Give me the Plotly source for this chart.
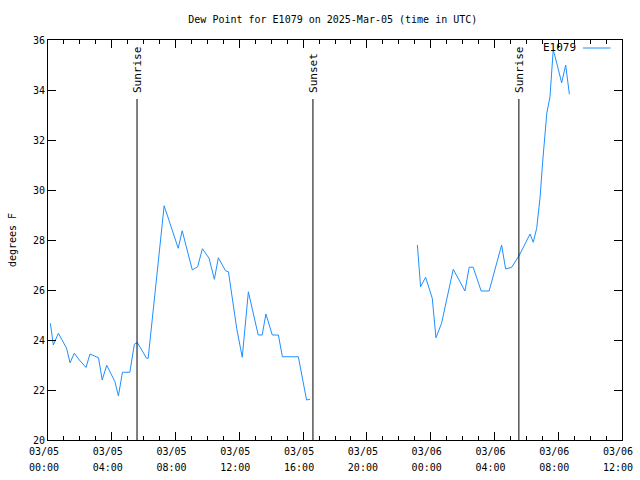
import plotly.graph_objects as go

# ---- data ----
times = [
    "2025-03-05 00:09", "2025-03-05 00:20", "2025-03-05 00:39", "2025-03-05 01:10",
    "2025-03-05 01:23", "2025-03-05 01:39", "2025-03-05 01:58", "2025-03-05 02:23",
    "2025-03-05 02:38", "2025-03-05 02:54", "2025-03-05 03:10", "2025-03-05 03:24",
    "2025-03-05 03:41", "2025-03-05 03:56", "2025-03-05 04:12", "2025-03-05 04:25",
    "2025-03-05 04:40", "2025-03-05 05:08", "2025-03-05 05:25", "2025-03-05 05:36",
    "2025-03-05 06:11", "2025-03-05 06:17", "2025-03-05 07:17", "2025-03-05 07:39",
    "2025-03-05 08:10", "2025-03-05 08:25", "2025-03-05 09:03", "2025-03-05 09:23",
    "2025-03-05 09:41", "2025-03-05 10:06", "2025-03-05 10:26", "2025-03-05 10:41",
    "2025-03-05 11:08", "2025-03-05 11:19", "2025-03-05 11:50", "2025-03-05 12:11",
    "2025-03-05 12:34", "2025-03-05 13:11", "2025-03-05 13:26", "2025-03-05 13:40",
    "2025-03-05 14:04", "2025-03-05 14:27", "2025-03-05 14:42", "2025-03-05 15:13",
    "2025-03-05 15:42", "2025-03-05 16:13", "2025-03-05 16:26",
    "2025-03-05 20:00",
    "2025-03-05 23:10", "2025-03-05 23:22", "2025-03-05 23:41", "2025-03-06 00:06",
    "2025-03-06 00:20", "2025-03-06 00:41", "2025-03-06 01:25", "2025-03-06 02:09",
    "2025-03-06 02:25", "2025-03-06 02:40", "2025-03-06 03:10", "2025-03-06 03:40",
    "2025-03-06 04:27", "2025-03-06 04:42", "2025-03-06 05:05", "2025-03-06 05:34",
    "2025-03-06 06:14", "2025-03-06 06:26", "2025-03-06 06:39", "2025-03-06 06:52",
    "2025-03-06 07:01", "2025-03-06 07:17", "2025-03-06 07:29", "2025-03-06 07:35",
    "2025-03-06 07:41", "2025-03-06 07:45", "2025-03-06 08:13", "2025-03-06 08:28",
    "2025-03-06 08:42",
]
dew_point = [
    24.67, 23.80, 24.27, 23.67,
    23.09, 23.47, 23.20, 22.90,
    23.44, 23.36, 23.29, 22.40,
    22.99, 22.67, 22.33, 21.76,
    22.71, 22.71, 23.83, 23.90,
    23.27, 23.27, 29.37, 28.67,
    27.67, 28.37, 26.80, 26.93,
    27.65, 27.27, 26.43, 27.29,
    26.77, 26.73, 24.47, 23.31,
    25.93, 24.20, 24.20, 25.04,
    24.20, 24.20, 23.33, 23.33,
    23.33, 21.60, 21.63,
    None,
    27.80, 26.13, 26.51, 25.67,
    24.09, 24.67, 26.83, 25.96,
    26.91, 26.91, 25.96, 25.96,
    27.80, 26.84, 26.91, 27.40,
    28.24, 27.91, 28.47, 29.73,
    31.07, 33.07, 33.73, 34.93,
    35.57, 35.47, 34.29, 35.00,
    33.83,
]

event_times = ["2025-03-05 05:35", "2025-03-05 16:37", "2025-03-06 05:32"]
event_labels = ["Sunrise", "Sunset", "Sunrise"]
event_top = 33.64

tick_vals = ["2025-03-05 00:00", "2025-03-05 04:00", "2025-03-05 08:00", "2025-03-05 12:00",
             "2025-03-05 16:00", "2025-03-05 20:00", "2025-03-06 00:00", "2025-03-06 04:00",
             "2025-03-06 08:00", "2025-03-06 12:00"]
tick_dates = ["03/05", "03/05", "03/05", "03/05", "03/05", "03/05", "03/06", "03/06", "03/06", "03/06"]
tick_hours = ["00:00", "04:00", "08:00", "12:00", "16:00", "20:00", "00:00", "04:00", "08:00", "12:00"]

series_name = "E1079"
title = "Dew Point for E1079 on 2025-Mar-05 (time in UTC)"

FONT = "DejaVu Sans Mono"
LINE_COLOR = "#1f8fff"
X_RANGE = ["2025-03-05 00:00", "2025-03-06 12:00"]

fig = go.Figure()
fig.add_trace(go.Scatter(
    x=times, y=dew_point, mode="lines", name=series_name,
    line=dict(color=LINE_COLOR, width=1), connectgaps=False, showlegend=False,
))

for t, lab in zip(event_times, event_labels):
    fig.add_shape(type="line", xref="x", yref="y", x0=t, x1=t, y0=20, y1=event_top,
                  line=dict(color="black", width=1))
    fig.add_annotation(x=t, y=event_top, xref="x", yref="y", text=lab, textangle=-90,
                       showarrow=False, yanchor="bottom", xanchor="center", yshift=4,
                       font=dict(family=FONT, size=11, color="black"))

# legend (gnuplot style: text then sample)
fig.add_annotation(xref="paper", yref="paper", x=0.924, y=0.982, text=series_name,
                   showarrow=False, xanchor="right", yanchor="middle",
                   font=dict(family=FONT, size=11, color="black"))
fig.add_shape(type="line", xref="paper", yref="paper", x0=0.932, x1=0.980, y0=0.98, y1=0.98,
              line=dict(color=LINE_COLOR, width=1))

ticktext = [f"<span style='font-size:10px'>{d}</span><br><span style='font-size:10px'>{h}</span>"
            for d, h in zip(tick_dates, tick_hours)]

fig.update_layout(
    width=640, height=480,
    margin=dict(l=48, r=18, t=40, b=40),
    paper_bgcolor="white", plot_bgcolor="white",
    font=dict(family=FONT, size=10, color="black"),
    title=dict(text=title, x=0.52, xanchor="center", y=0.96, yanchor="middle",
               font=dict(family=FONT, size=10, color="black")),
    xaxis=dict(
        type="date", range=X_RANGE, automargin=False,
        tickvals=tick_vals, ticktext=ticktext, ticklabelshift=-4,
        tickfont=dict(family=FONT, size=12),
        ticks="inside", ticklen=8, tickcolor="black",
        showline=True, linecolor="black", linewidth=1, mirror="ticks",
        showgrid=False, zeroline=False,
        minor=dict(dtick=3600000, ticks="inside", ticklen=4, tickcolor="black", showgrid=False),
    ),
    xaxis2=dict(
        type="date", range=X_RANGE, automargin=False, overlaying="x", side="top",
        matches="x", showticklabels=False,
        tickvals=tick_vals, ticks="inside", ticklen=8, tickcolor="black",
        showline=False, showgrid=False, zeroline=False,
        minor=dict(dtick=3600000, ticks="inside", ticklen=4, tickcolor="black", showgrid=False),
    ),
    yaxis=dict(
        range=[20, 36], dtick=2, tick0=20, automargin=False,
        tickfont=dict(family=FONT, size=10),
        ticks="inside", ticklen=8, tickcolor="black",
        showline=True, linecolor="black", linewidth=1, mirror="ticks",
        showgrid=False, zeroline=False,
        title=dict(text="degrees F", font=dict(family=FONT, size=10), standoff=14),
    ),
)

# invisible trace to activate the top axis
fig.add_trace(go.Scatter(x=X_RANGE, y=[None, None], xaxis="x2", yaxis="y",
                         mode="lines", showlegend=False, hoverinfo="skip"))

fig.write_html("out.html")
